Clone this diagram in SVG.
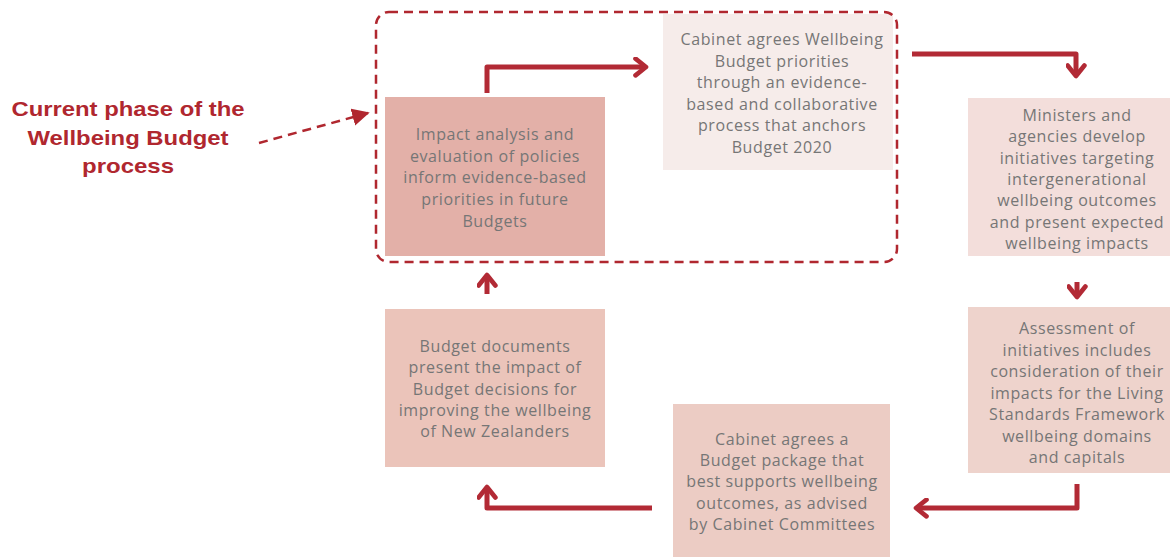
<svg xmlns="http://www.w3.org/2000/svg" width="1170" height="557" viewBox="0 0 1170 557">
<style>
.t{font-family:"Open Sans","Liberation Sans",sans-serif;font-size:16px;letter-spacing:0.6px;fill:#767676;text-anchor:middle}
.c{fill:none;stroke:#b22a35;stroke-width:5;stroke-linejoin:round}
.lbl{font-family:"Liberation Sans",Arial,sans-serif;font-weight:bold;font-size:21px;fill:#b0272f;text-anchor:middle}
</style>
<defs>
<marker id="ah" viewBox="0 0 10 10" refX="6" refY="5" markerWidth="4.2" markerHeight="4.2" orient="auto" markerUnits="strokeWidth">
<path d="M1,1 L6,5 L1,9" fill="none" stroke="#b22a35" stroke-width="2.2" stroke-linecap="round" stroke-linejoin="round"/>
</marker>
<marker id="dh" viewBox="0 0 10 10" refX="9" refY="5" markerWidth="7" markerHeight="7" orient="auto" markerUnits="strokeWidth">
<path d="M0,0 L10,5 L0,10 Z" fill="#b0272f"/>
</marker>
</defs>
<rect width="1170" height="557" fill="#ffffff"/>
<g id="n1">
<rect x="385" y="97" width="220" height="159" fill="#e3b0a8"/>
<text class="t"><tspan x="495" y="140">Impact analysis and</tspan><tspan x="495" y="162">evaluation of policies</tspan><tspan x="495" y="183">inform evidence-based</tspan><tspan x="495" y="205">priorities in future</tspan><tspan x="495" y="227">Budgets</tspan></text>
</g>
<g id="n2">
<rect x="663" y="14" width="230" height="156" fill="#f6ecea"/>
<text class="t"><tspan x="782" y="45">Cabinet agrees Wellbeing</tspan><tspan x="782" y="67">Budget priorities</tspan><tspan x="782" y="88">through an evidence-</tspan><tspan x="782" y="110">based and collaborative</tspan><tspan x="782" y="131">process that anchors</tspan><tspan x="782" y="153">Budget 2020</tspan></text>
</g>
<g id="n3">
<rect x="968" y="98" width="202" height="158" fill="#f3dedb"/>
<text class="t"><tspan x="1077" y="121">Ministers and</tspan><tspan x="1077" y="142">agencies develop</tspan><tspan x="1077" y="164">initiatives targeting</tspan><tspan x="1077" y="185">intergenerational</tspan><tspan x="1077" y="206">wellbeing outcomes</tspan><tspan x="1077" y="228">and present expected</tspan><tspan x="1077" y="249">wellbeing impacts</tspan></text>
</g>
<g id="n4">
<rect x="968" y="307" width="202" height="166" fill="#eed3cc"/>
<text class="t"><tspan x="1077" y="334">Assessment of</tspan><tspan x="1077" y="356">initiatives includes</tspan><tspan x="1077" y="377">consideration of their</tspan><tspan x="1077" y="399">impacts for the Living</tspan><tspan x="1077" y="420">Standards Framework</tspan><tspan x="1077" y="442">wellbeing domains</tspan><tspan x="1077" y="463">and capitals</tspan></text>
</g>
<g id="n5">
<rect x="673" y="404" width="217" height="153" fill="#ecccc4"/>
<text class="t"><tspan x="782" y="445">Cabinet agrees a</tspan><tspan x="782" y="466">Budget package that</tspan><tspan x="782" y="487">best supports wellbeing</tspan><tspan x="782" y="509">outcomes, as advised</tspan><tspan x="782" y="530">by Cabinet Committees</tspan></text>
</g>
<g id="n6">
<rect x="385" y="309" width="220" height="158" fill="#ebc4ba"/>
<text class="t"><tspan x="495" y="352">Budget documents</tspan><tspan x="495" y="373">present the impact of</tspan><tspan x="495" y="395">Budget decisions for</tspan><tspan x="495" y="416">improving the wellbeing</tspan><tspan x="495" y="437">of New Zealanders</tspan></text>
</g>
<g id="phase">
<rect x="376" y="12" width="521" height="250" rx="13" ry="13" fill="none" stroke="#b0272f" stroke-width="2.5" stroke-dasharray="9,6"/>
<text class="lbl"><tspan x="128" y="116" textLength="233" lengthAdjust="spacingAndGlyphs">Current phase of the</tspan><tspan x="128" y="145" textLength="201" lengthAdjust="spacingAndGlyphs">Wellbeing Budget</tspan><tspan x="128" y="173" textLength="92" lengthAdjust="spacingAndGlyphs">process</tspan></text>
</g>
<g id="connectors">
<path class="c" d="M487,93 L487,67 L646,67" marker-end="url(#ah)"/>
<path class="c" d="M912,54 L1076,54 L1076,76" marker-end="url(#ah)"/>
<path class="c" d="M1077,282 L1077,297" marker-end="url(#ah)"/>
<path class="c" d="M1077,484 L1077,508 L916,508" marker-end="url(#ah)"/>
<path class="c" d="M652,508 L487,508 L487,487" marker-end="url(#ah)"/>
<path class="c" d="M487,294 L487,275" marker-end="url(#ah)"/>
<path d="M259,143 L368,113" fill="none" stroke="#b0272f" stroke-width="2.5" stroke-dasharray="9,6" marker-end="url(#dh)"/>
</g>
</svg>
